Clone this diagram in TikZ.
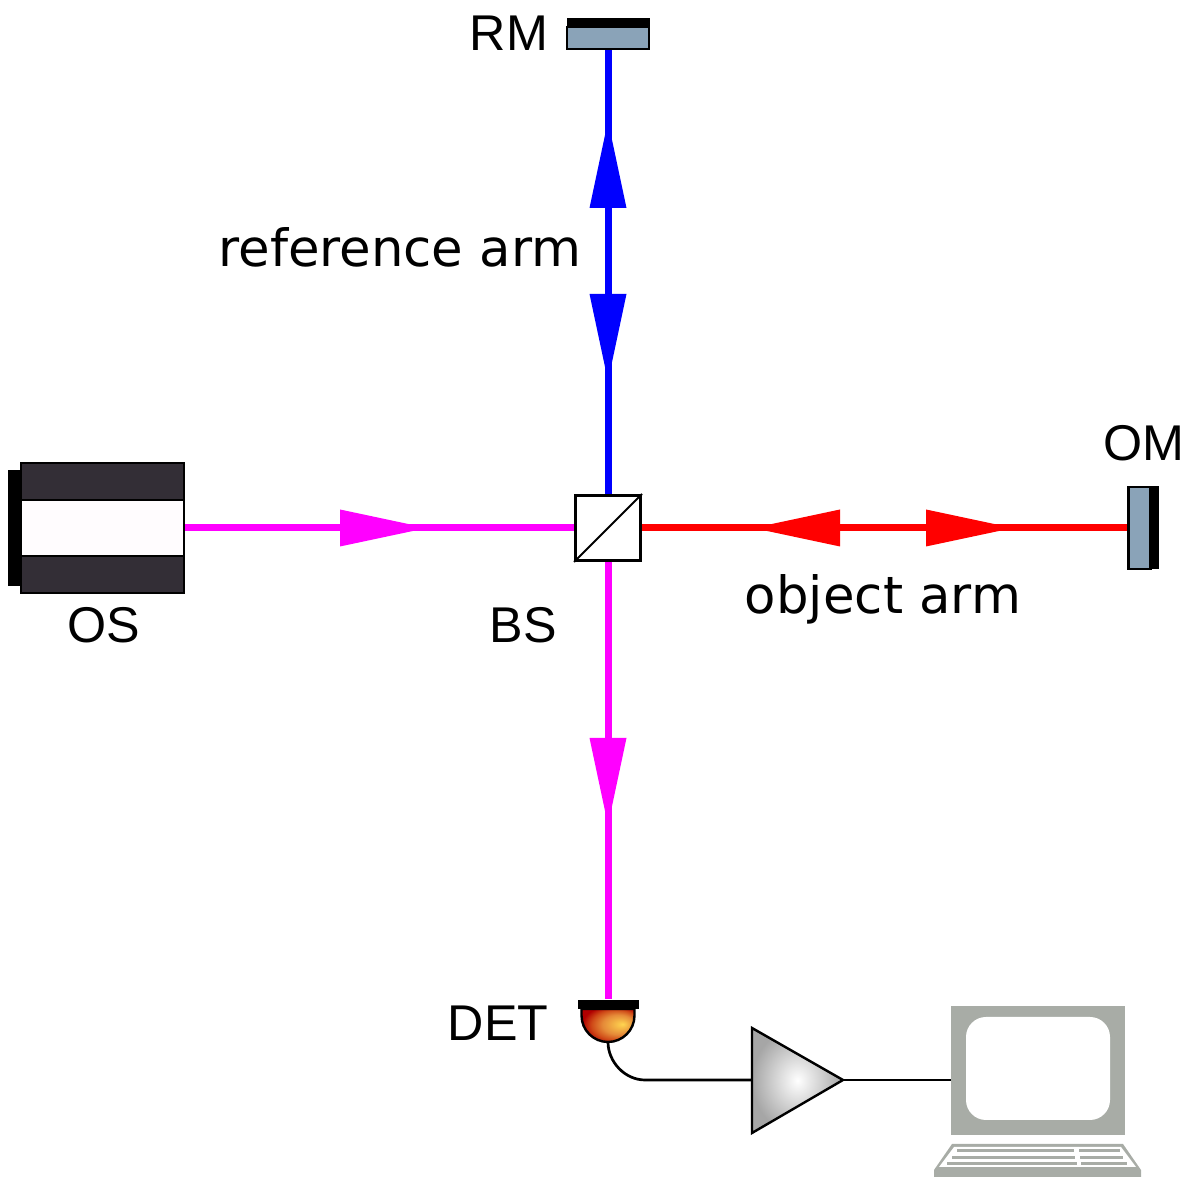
\documentclass[tikz,border=0pt]{standalone}
\usepackage{fontspec}
\setmainfont{Liberation Sans}
\newfontfamily\armfont{DejaVu Sans}
\usepackage{xcolor}
\definecolor{mirrorblue}{HTML}{8AA3B8}
\definecolor{sourcedark}{HTML}{332E36}
\definecolor{sourcelight}{HTML}{FFFCFE}
\definecolor{pcgrey}{HTML}{A8ACA6}
\definecolor{mixpink}{HTML}{FF00FF}
\definecolor{detyellow}{HTML}{FFD550}
\definecolor{detorange}{HTML}{E58A38}
\definecolor{detrust}{HTML}{CF4A18}
\definecolor{detred}{HTML}{B00000}
\pgfdeclareradialshading{detshade}{\pgfpoint{14bp}{2bp}}{%
  color(0bp)=(detyellow); color(15bp)=(detorange); color(23bp)=(detrust);
  color(30bp)=(detred); color(50bp)=(detred)}
\tikzset{
  refbeam/.style={line width=0.07cm, draw=blue},
  objbeam/.style={line width=0.07cm, draw=red},
  mixbeam/.style={line width=0.07cm, draw=mixpink},
  mirrorbox/.style={draw=black, fill=mirrorblue, line width=0.025cm, inner sep=0pt},
  backplate/.style={draw=none, fill=black, inner sep=0pt},
  splitter/.style={draw=black, fill=white, line width=0.03cm, inner sep=0pt, minimum size=0.65cm},
  sourcebox/.style={draw=black, fill=sourcedark, line width=0.02cm, inner sep=0pt},
  sourcegap/.style={draw=black, fill=sourcelight, line width=0.02cm, inner sep=0pt},
  wire/.style={line width=0.027cm, draw=black},
  partlabel/.style={font=\fontsize{14.3pt}{17pt}\selectfont, inner sep=0pt},
  armlabel/.style={font=\armfont\fontsize{14.6pt}{17pt}\selectfont, inner sep=0pt},
  beamhead/.pic={\fill (0,-0.185) -- (0.87,0) -- (0,0.185) -- cycle;},
}
\begin{document}
\begin{tikzpicture}
\useasboundingbox (0,0) rectangle (11.89,11.78);
\node[backplate, minimum width=0.14cm, minimum height=1.16cm] at (0.15,6.50) {};
\node[sourcebox, minimum width=1.63cm, minimum height=1.30cm] (os) at (1.025,6.50) {};
\node[sourcegap, minimum width=1.63cm, minimum height=0.56cm] at (1.025,6.50) {};
\node[splitter] (bs) at (6.08,6.50) {};
\draw[line width=0.02cm] (bs.south west) -- (bs.north east);
\node[mirrorbox, minimum width=0.82cm, minimum height=0.22cm] (rm) at (6.08,11.40) {};
\node[backplate, minimum width=0.83cm, minimum height=0.10cm] at (6.08,11.55) {};
\node[mirrorbox, minimum width=0.22cm, minimum height=0.82cm] (om) at (11.395,6.50) {};
\node[backplate, minimum width=0.10cm, minimum height=0.83cm] at (11.54,6.50) {};
\node[backplate, minimum width=0.61cm, minimum height=0.09cm] (det) at (6.08,1.735) {};
\draw[refbeam] (bs.north) -- (rm.south);
\draw[objbeam] (bs.east) -- (om.west);
\draw[mixbeam] (os.east) -- (bs.west);
\draw[mixbeam] (bs.south) -- (det.north);
\pic[blue, rotate=90] at (6.08,9.70) {beamhead};
\pic[blue, rotate=-90] at (6.08,8.84) {beamhead};
\pic[red, rotate=180] at (8.40,6.50) {beamhead};
\pic[red] at (9.26,6.50) {beamhead};
\pic[mixpink] at (3.40,6.50) {beamhead};
\pic[mixpink, rotate=-90] at (6.08,4.40) {beamhead};
\shade[shading=detshade, draw=black, line width=0.024cm] (5.815,1.69) -- (5.815,1.625) arc (180:360:0.265) -- (6.345,1.69) -- cycle;
\coordinate (detout) at (6.08,1.36);
\coordinate (ampin) at (7.52,0.98);
\coordinate (ampout) at (8.43,0.98);
\coordinate (pcin) at (9.51,0.98);
\draw[wire] (detout) .. controls (6.08,1.16) and (6.25,0.98) .. (6.45,0.98) -- (ampin);
\shade[inner color=white, outer color=black!35, draw=black, line width=0.024cm] (ampin |- 0,1.50) -- (ampout) -- (ampin |- 0,0.45) -- cycle;
\draw[wire] (ampout) -- (pcin);
\fill[pcgrey] (9.51,0.43) rectangle (11.25,1.72);
\fill[white, rounded corners=0.2cm] (9.66,0.58) rectangle (11.10,1.61);
\fill[pcgrey] (9.52,0.34) -- (11.23,0.34) -- (11.41,0.08) -- (11.41,0.01) -- (9.34,0.01) -- (9.34,0.08) -- cycle;
\fill[white] (9.54,0.31) -- (11.21,0.31) -- (11.36,0.11) -- (9.39,0.11) -- cycle;
\foreach \rowy/\xa/\xb/\xc/\xd in {0.27/9.57/10.74/10.79/11.20, 0.20/9.52/10.75/10.80/11.23, 0.14/9.47/10.77/10.81/11.27} {
  \draw[pcgrey, line width=0.03cm] (\xa,\rowy) -- (\xb,\rowy);
  \draw[pcgrey, line width=0.03cm] (\xc,\rowy) -- (\xd,\rowy);
}
\node[partlabel] (rmlabel) at (5.09,11.45) {RM};
\node[partlabel] (omlabel) at (11.44,7.35) {OM};
\node[partlabel] (oslabel) at (1.04,5.53) {OS};
\node[partlabel] (bslabel) at (5.23,5.53) {BS};
\node[partlabel] (detlabel) at (4.98,1.55) {DET};
\node[armlabel] (reflabel) at (4.00,9.31) {reference arm};
\node[armlabel] (objlabel) at (8.83,5.79) {object arm};
\end{tikzpicture}
\end{document}
